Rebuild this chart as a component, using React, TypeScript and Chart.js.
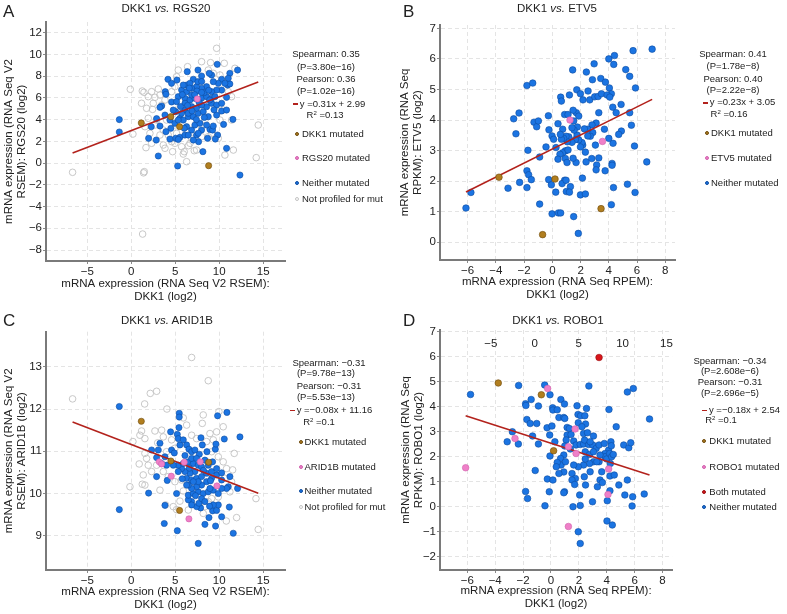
import React, { useEffect, useRef } from "react";
import { Chart, registerables } from "chart.js";
Chart.register(...registerables);

const FONT = '"Liberation Sans", Arial, Helvetica, sans-serif';
type Pt = [number, number];

// ---------------- Panel A: DKK1 vs RGS20 ----------------
const A_neither: Pt[] = [
  [-1.36,4.0],[-1.36,2.86],[1.97,2.28],[2.84,2.12],[3.07,0.65],[2.27,3.35],[2.88,4.09],[3.26,3.41],[3.45,5.25],[3.86,6.57],
  [3.94,6.33],[4.17,7.71],[4.58,7.34],[5.19,7.64],[4.58,5.62],[5.04,4.73],[5.27,-0.27],[6.36,8.41],[7.58,8.56],[9.77,9.09],
  [12.08,8.56],[11.2,8.26],[10.83,6.05],[11.55,4.02],[10.83,1.36],[12.35,-1.1],[8.14,1.05],[7.65,1.97],[9.81,2.58],[9.55,2.21],
  [10.49,3.56],[4.5,3.2],[5.04,2.28],[5.53,2.37],[5.34,2.18],[3.94,2.89],[4.39,2.21],[6.1,2.58],[6.86,3.04],[7.42,2.58],
  [7.99,3.04],[8.94,3.1],[9.24,3.04],[9.7,4.42],[8.75,4.27],[10.27,4.79],[10.95,7.18],[11.2,7.28],[11.02,7.8],[10.27,7.71],
  [9.89,7.34],[9.13,8.1],[8.86,8.26],[7.99,8.01],[7.05,7.71],[6.29,7.18],[5.72,6.72],[5.34,6.11],[5.15,5.65],[4.77,4.88],
  [5.53,4.12],[5.91,3.96],[6.48,4.27],[7.05,4.27],[7.61,4.58],[8.18,4.73],[8.56,5.19],[9.13,5.5],[9.7,5.34],[10.27,5.5],
  [10.27,6.72],[9.7,6.72],[9.13,6.57],[8.56,7.03],[7.99,6.88],[7.42,7.03],[6.86,6.88],[6.29,6.57],[6.1,5.96],[6.67,5.8],
  [7.23,5.96],[7.99,5.96],[8.56,6.11],[9.13,5.96],[6.86,5.19],[7.42,5.04],[7.99,5.34],[6.1,4.88],[6.48,4.58],[5.72,4.58],
  [3.83,4.42],[4.39,3.96],[4.96,3.66],[3.26,5.13],[6.29,3.35],[7.23,3.5],[7.8,3.66],[8.56,3.5],[6.48,2.58],[7.05,2.12],
  [7.61,2.74],[5.34,3.96],[6.02,3.2],[8.67,2.28],[9.32,3.41],[10.64,7.34],[9.32,7.49],[7.58,7.49],[6.67,7.34],[5.91,7.18],
  [7.46,6.63],[8.3,6.48],[9.51,6.11],[6.86,6.26],[6.1,5.5],[10.83,4.88],[6.6,6.9],[7.2,6.3],[8.0,6.5],[8.8,6.7],
  [6.4,5.3],[7.7,5.6],[8.9,5.8],[5.8,6.3],[6.9,4.8],[8.3,4.2],[7.4,4.0],[9.4,4.9],[5.6,5.2],[8.0,7.5]
];
const A_dkk1: Pt[] = [[1.14,3.69],[4.5,4.27],[5.49,3.35],[8.79,-0.24]];
const A_gene: Pt[] = [[7.5,5.9]];
const A_notProfiled: Pt[] = [
  [-6.67,-0.85],[-0.11,6.79],[1.25,6.63],[1.44,6.51],[1.48,-0.79],[1.29,-6.53],[0.19,2.67],[1.67,1.42],[2.69,6.05],[3.07,6.82],
  [2.42,4.94],[3.45,5.34],[3.64,1.66],[4.7,1.05],[4.96,1.82],[5.91,0.83],[6.29,0.13],[7.16,1.14],[6.4,8.87],[9.01,9.24],
  [9.7,10.56],[10.57,9.18],[11.78,8.72],[11.4,6.11],[10.64,0.74],[14.2,0.5],[14.43,3.5],[8.75,2.43],[9.89,2.28],[10.45,4.88],
  [1.93,4.12],[2.12,2.74],[2.31,1.82],[3.26,2.58],[3.83,1.36],[4.2,2.58],[2.69,3.5],[1.74,5.04],[2.88,3.96],[4.58,6.57],
  [5.15,7.95],[5.34,8.56],[4.96,7.03],[3.83,5.8],[3.26,6.26],[7.99,9.33],[8.75,8.56],[9.32,8.26],[10.08,8.1],[11.02,6.57],
  [9.89,4.73],[8.37,3.96],[7.99,2.43],[6.86,2.28],[5.72,1.51],[6.67,1.82],[7.42,1.2],[6.02,1.05],[4.58,1.97],[5.15,2.74],
  [1.55,3.35],[1.17,5.5],[1.93,6.11],[2.31,6.57],[2.5,5.5],[3.64,3.04],[4.01,3.96],[5.53,5.04],[7.99,3.35],[9.13,2.74],
  [10.08,3.96],[11.4,3.96],[1.4,-0.9],[6.5,1.6],[11.6,1.2]
];
const A_fit = { slope: 0.31, intercept: 2.99 };
const A_xTicks = [-5, 0, 5, 10, 15];
const A_yTicks = [-8, -6, -4, -2, 0, 2, 4, 6, 8, 10, 12];

// ---------------- Panel B: DKK1 vs ETV5 ----------------
const B_neither: Pt[] = [
  [-6.12,1.12],[-5.77,1.63],[-3.14,1.77],[-2.32,1.96],[-1.8,1.79],[-1.8,2.34],[-1.68,2.21],[-1.49,2.05],[-1.73,3.01],[-2.74,4.04],
  [-2.36,4.23],[-2.58,3.55],[-1.8,5.13],[-1.39,5.21],[-1.3,3.93],[-1.11,3.78],[-0.99,3.97],[-0.9,2.79],[-0.9,1.25],[-0.28,4.14],
  [-0.45,3.12],[-0.24,3.68],[-0.02,3.48],[0.09,3.37],[0.26,3.1],[-0.26,2.05],[-0.07,1.88],[0.24,1.64],[-0.02,0.93],[0.43,0.96],
  [0.59,0.96],[0.59,4.75],[0.64,4.62],[0.4,3.88],[0.73,3.7],[0.87,4.18],[1.11,4.18],[1.21,4.82],[1.44,5.64],[1.73,4.99],
  [1.7,4.24],[1.47,4.32],[1.51,3.97],[1.87,4.13],[1.99,4.86],[2.17,4.66],[2.41,5.57],[2.53,4.95],[2.65,4.66],[2.84,5.32],
  [2.96,5.84],[3.0,4.76],[3.24,4.77],[3.43,5.36],[3.48,4.86],[3.76,5.24],[4.0,6.0],[4.4,6.11],[4.35,5.82],[4.04,5.05],
  [4.18,4.86],[3.88,4.82],[4.07,4.75],[4.28,4.42],[4.52,4.24],[4.87,4.51],[5.2,5.65],[5.48,5.43],[5.72,6.27],[5.89,5.05],
  [5.48,4.24],[5.6,3.83],[5.82,3.15],[4.89,3.64],[4.7,3.53],[4.3,3.24],[4.23,2.58],[4.23,2.52],[4.33,1.79],[4.18,1.23],
  [5.32,1.9],[5.86,1.63],[6.69,2.63],[7.07,6.32],[4.0,3.4],[3.69,3.7],[3.29,4.24],[3.1,3.9],[3.05,3.18],[3.14,2.53],
  [3.1,2.37],[3.29,2.76],[2.79,2.74],[2.86,3.59],[2.69,3.47],[2.81,3.84],[2.51,3.7],[2.51,3.48],[2.27,3.71],[2.34,2.95],
  [2.15,3.18],[2.1,3.26],[1.99,3.12],[1.87,3.35],[1.75,3.51],[1.77,3.77],[1.54,3.67],[1.39,3.75],[1.63,3.36],[1.39,3.27],
  [1.16,3.45],[1.06,3.29],[0.97,3.47],[0.8,3.4],[0.64,3.37],[0.57,3.53],[0.92,2.99],[0.73,2.93],[0.92,2.74],[1.04,2.61],
  [1.11,3.02],[0.54,2.88],[0.4,2.72],[0.87,2.03],[0.69,1.92],[0.97,2.03],[1.28,1.82],[0.99,1.66],[1.21,1.64],[1.51,0.84],
  [1.84,0.29],[1.99,1.55],[2.34,1.58],[2.13,2.1],[1.68,2.61],[1.47,2.75],[2.39,2.63],[3.74,2.34]
];
const B_dkk1: Pt[] = [[-3.78,2.13],[0.19,2.07],[3.45,1.1],[-0.69,0.25]];
const B_gene: Pt[] = [[1.25,4.0],[3.55,3.3]];
const B_fit = { slope: 0.23, intercept: 3.05 };
const B_xTicks = [-6, -4, -2, 0, 2, 4, 6, 8];
const B_yTicks = [0, 1, 2, 3, 4, 5, 6, 7];

// ---------------- Panel C: DKK1 vs ARID1B ----------------
const C_neither: Pt[] = [
  [-1.36,12.06],[-1.36,9.62],[1.97,10.01],[2.31,11.03],[2.88,10.4],[3.26,11.19],[3.83,9.72],[3.75,9.29],[4.09,10.31],[4.47,11.46],
  [4.58,11.03],[4.89,10.96],[5.15,10.0],[5.23,9.12],[5.45,11.9],[5.45,11.81],[5.42,11.56],[5.23,11.4],[5.34,11.3],[5.53,11.15],
  [5.91,11.27],[6.29,11.15],[6.55,11.05],[6.86,10.99],[7.23,11.03],[7.73,10.93],[7.92,11.32],[8.07,11.15],[8.6,10.99],[9.24,10.75],
  [9.55,11.05],[9.62,11.17],[9.81,11.84],[10.87,11.92],[10.57,11.29],[12.35,11.34],[12.08,10.12],[11.21,10.4],[11.02,10.16],[10.83,10.12],
  [11.14,9.68],[11.59,9.06],[10.27,9.45],[9.58,9.23],[8.37,9.27],[8.83,9.43],[9.24,9.59],[9.7,9.6],[9.89,9.73],[9.32,9.73],
  [7.61,8.82],[7.88,9.66],[7.42,9.69],[7.69,9.77],[6.86,9.81],[6.48,9.85],[6.48,9.96],[7.05,10.0],[7.61,10.04],[8.18,10.0],
  [8.75,10.04],[9.32,10.08],[9.89,10.0],[10.27,10.12],[10.27,10.32],[9.7,10.44],[9.13,10.36],[8.56,10.28],[7.99,10.2],[7.42,10.16],
  [6.86,10.12],[6.48,10.2],[6.29,10.36],[6.86,10.32],[7.42,10.36],[7.99,10.4],[8.56,10.48],[9.13,10.52],[9.7,10.59],[10.27,10.49],
  [7.23,10.52],[6.67,10.48],[6.1,10.52],[5.72,10.59],[5.34,10.67],[5.34,10.52],[5.91,10.71],[6.48,10.75],[7.05,10.71],[7.61,10.67],
  [7.99,10.63],[8.37,10.79],[8.75,10.67],[6.86,10.83],[7.42,10.83],[4.77,10.67],[4.01,10.67],[3.45,10.71],[2.88,10.85],[3.07,11.03],
  [3.83,10.87],[6.29,10.2],[7.99,9.88],[8.37,9.81],[6.86,9.73],[8.94,10.12],[7.61,10.28],[7.05,10.28],[6.1,10.9],[8.2,10.55],
  [6.6,10.6],[9.0,10.3],[5.8,10.35],[7.3,9.95],[8.9,9.7]
];
const C_dkk1: Pt[] = [[1.14,11.71],[4.5,10.77],[8.79,10.74],[5.49,9.6]];
const C_gene: Pt[] = [[3.18,10.75],[3.45,10.7],[4.55,10.41],[6.02,10.74],[7.84,10.75],[9.73,10.18],[6.55,9.4]];
const C_notProfiled: Pt[] = [
  [-6.67,12.24],[2.16,12.37],[2.88,12.42],[1.52,12.12],[4.05,12.0],[6.86,13.22],[8.75,12.67],[8.18,11.86],[8.07,11.66],[6.29,11.62],
  [5.91,11.79],[9.96,11.94],[10.45,11.58],[11.7,10.95],[11.52,10.56],[11.97,9.43],[14.43,9.15],[14.17,9.88],[10.8,9.35],[0.19,11.23],
  [-0.15,10.16],[1.17,11.48],[0.98,11.38],[1.55,11.3],[2.69,11.48],[3.45,11.5],[3.64,11.34],[1.55,10.95],[1.74,10.83],[1.93,10.67],
  [1.36,10.44],[1.25,10.22],[1.55,10.2],[3.26,10.08],[2.31,10.52],[2.88,10.67],[3.9,9.73],[4.77,9.69],[5.15,9.62],[5.53,9.82],
  [6.48,9.61],[7.61,10.24],[8.94,11.42],[9.7,11.46],[9.32,11.27],[9.13,10.99],[9.89,10.87],[10.45,10.75],[10.83,10.59],[10.64,10.36],
  [4.58,11.27],[4.96,11.07],[4.01,10.99],[3.64,10.52],[4.2,10.4],[4.96,10.28],[5.72,10.32],[6.86,11.38],[7.42,11.3],[8.56,11.23],
  [8.75,9.81],[9.13,9.88],[8.37,9.69],[9.89,9.92],[11.21,10.04],[11.4,10.28],[8.18,9.53],[5.91,10.06],[3.0,11.2],[0.9,10.7]
];
const C_fit = { slope: -0.08, intercept: 11.16 };
const C_xTicks = [-5, 0, 5, 10, 15];
const C_yTicks = [9, 10, 11, 12, 13];

// ---------------- Panel D: DKK1 vs ROBO1 ----------------
const D_neither: Pt[] = [
  [-5.77,4.49],[-2.32,4.85],[-2.77,3.0],[-3.14,2.6],[-2.34,2.51],[-1.82,4.12],[-1.8,4.05],[-1.42,4.29],[-1.73,3.49],[-1.49,3.33],
  [-1.02,3.33],[-1.32,2.83],[-0.9,4.03],[-0.9,2.51],[-1.13,1.45],[-1.82,0.61],[-1.68,0.33],[-0.43,0.04],[-0.45,4.87],[-0.07,4.48],
  [-0.28,3.16],[-0.09,2.87],[0.12,3.96],[0.14,3.87],[0.45,3.88],[0.07,3.23],[0.28,2.6],[-0.07,2.03],[-0.26,1.11],[0.14,1.07],
  [-0.12,0.6],[0.71,4.29],[0.97,4.11],[0.57,3.57],[0.92,3.57],[0.99,3.53],[1.16,3.17],[1.32,3.13],[1.16,2.87],[1.09,2.67],
  [0.99,2.43],[0.92,2.07],[0.69,1.93],[0.73,1.67],[0.92,1.39],[1.04,1.8],[0.45,1.77],[0.38,1.6],[0.57,1.33],[0.97,0.6],
  [1.87,4.04],[1.96,3.36],[1.94,3.69],[2.13,3.64],[2.43,3.64],[2.48,3.31],[2.55,3.93],[2.72,4.83],[1.39,2.31],[1.63,2.63],
  [1.8,2.47],[2.1,2.49],[2.34,2.51],[2.7,2.49],[3.0,2.47],[3.24,2.33],[3.45,2.47],[3.05,2.83],[3.83,2.53],[4.14,2.27],
  [3.88,2.13],[3.45,1.8],[3.05,1.8],[2.77,1.73],[2.34,1.67],[1.96,1.6],[1.63,1.67],[1.51,1.33],[1.75,1.13],[1.51,1.07],
  [1.7,0.89],[2.06,0.47],[2.1,0.05],[1.96,-1.0],[2.1,-1.47],[0.92,0.56],[1.58,0.0],[2.39,1.2],[2.48,0.87],[2.98,0.2],
  [3.33,0.8],[3.52,1.07],[3.69,0.97],[3.64,1.4],[3.88,2.0],[4.0,1.91],[4.21,2.13],[4.35,2.0],[4.26,1.73],[4.3,2.6],
  [4.33,2.44],[4.47,2.09],[4.23,1.23],[4.23,0.64],[4.04,0.24],[4.02,-0.57],[4.4,-0.73],[4.54,1.27],[4.87,0.87],[4.68,3.2],
  [4.16,3.89],[5.22,2.47],[5.58,2.36],[5.72,2.56],[5.48,1.07],[5.3,0.47],[5.86,0.4],[5.82,0.03],[6.69,0.51],[7.07,3.51],
  [5.48,4.59],[5.91,4.73],[2.41,2.67],[2.81,2.6],[2.46,2.2],[2.77,2.09],[3.52,2.07],[3.05,2.2],[2.81,1.4],[3.29,1.8],
  [2.46,1.91],[1.44,2.89],[2.34,2.93],[2.22,3.2],[2.62,2.96]
];
const D_dkk1: Pt[] = [[-3.78,4.95],[-0.69,4.48],[0.19,2.24]];
const D_gene: Pt[] = [[-6.12,1.56],[-2.58,2.73],[-0.24,4.73],[1.73,3.11],[1.25,2.4],[1.8,2.13],[4.14,1.51],[4.09,0.49],[1.25,-0.79]];
const D_both: Pt[] = [[3.45,5.97]];
const D_fit = { slope: -0.18, intercept: 2.54 };
const D_xTicks = [-6, -4, -2, 0, 2, 4, 6, 8];
const D_yTicks = [-2, -1, 0, 1, 2, 3, 4, 5, 6, 7];
const D_topTicks = [-5, 0, 5, 10, 15];

// ---------------- styles ----------------
type Kind = "neither" | "dkk1" | "gene" | "both" | "np";
const KIND_STYLE: Record<Kind, { bg: string; border: string; order: number }> = {
  neither: { bg: "#1b74e2", border: "#0e4c9f", order: 2 },
  dkk1: { bg: "#b17e1f", border: "#6d4a0d", order: 0 },
  gene: { bg: "#ef80c8", border: "#d062ad", order: 0 },
  both: { bg: "#d8161b", border: "#990d10", order: 0 },
  np: { bg: "rgba(255,255,255,0)", border: "#c2c2c2", order: 3 },
};
const FIT_COLOR = "#b3221c";

interface PanelCfg {
  left: number; top: number; width: number; height: number;
  padTop: number; padRight: number; yAxisW: number; xAxisH: number;
  xMin: number; xMax: number; yMin: number; yMax: number;
  xTicks: number[]; yTicks: number[];
  xTitle: string[]; yTitle: string[]; xTitlePadB: number; yTitlePadT: number;
  series: { data: Pt[]; kind: Kind }[];
  fit: { slope: number; intercept: number };
  radius: number;
  topAxis?: { min: number; max: number; ticks: number[] };
}

const fmt = (v: number) => (v < 0 ? "\u2212" + Math.abs(v) : String(v));
const tickFont = { family: FONT, size: 11.5 };
const titleFont = { family: FONT, size: 11.5, lineHeight: 1.1 };

const PANELS: PanelCfg[] = [
  {
    left: 0, top: 0, width: 290, height: 306, padTop: 22, padRight: 5, yAxisW: 46, xAxisH: 45,
    xMin: -9.69, xMax: 17.47, yMin: -9.01, yMax: 12.98, xTicks: A_xTicks, yTicks: A_yTicks,
    xTitle: ["mRNA expression (RNA Seq V2 RSEM):", "DKK1 (log2)"], yTitle: ["mRNA expression (RNA Seq V2", "RSEM): RGS20 (log2)"],
    xTitlePadB: 3, yTitlePadT: 2.7,
    series: [{ data: A_dkk1, kind: "dkk1" }, { data: A_gene, kind: "gene" }, { data: A_neither, kind: "neither" }, { data: A_notProfiled, kind: "np" }],
    fit: A_fit, radius: 3.1,
  },
  {
    left: 396, top: 0, width: 284, height: 306, padTop: 25, padRight: 5, yAxisW: 44, xAxisH: 46,
    xMin: -7.96, xMax: 8.69, yMin: -0.58, yMax: 7.11, xTicks: B_xTicks, yTicks: B_yTicks,
    xTitle: ["mRNA expression (RNA Seq RPEM):", "DKK1 (log2)"], yTitle: ["mRNA expression (RNA Seq", "RPKM): ETV5 (log2)"],
    xTitlePadB: 4.7, yTitlePadT: 2.7,
    series: [{ data: B_dkk1, kind: "dkk1" }, { data: B_gene, kind: "gene" }, { data: B_neither, kind: "neither" }],
    fit: B_fit, radius: 3.3,
  },
  {
    left: 0, top: 306, width: 290, height: 308, padTop: 25.7, padRight: 5, yAxisW: 46, xAxisH: 44,
    xMin: -9.69, xMax: 17.47, yMin: 8.19, yMax: 13.83, xTicks: C_xTicks, yTicks: C_yTicks,
    xTitle: ["mRNA expression (RNA Seq V2 RSEM):", "DKK1 (log2)"], yTitle: ["mRNA expression (RNA Seq V2", "RSEM): ARID1B (log2)"],
    xTitlePadB: 2.7, yTitlePadT: 2.7,
    series: [{ data: C_dkk1, kind: "dkk1" }, { data: C_gene, kind: "gene" }, { data: C_neither, kind: "neither" }, { data: C_notProfiled, kind: "np" }],
    fit: C_fit, radius: 3.1,
  },
  {
    left: 396, top: 306, width: 284, height: 308, padTop: 24, padRight: 5, yAxisW: 44, xAxisH: 44,
    xMin: -7.96, xMax: 8.69, yMin: -2.53, yMax: 7.07, xTicks: D_xTicks, yTicks: D_yTicks,
    xTitle: ["mRNA expression (RNA Seq RPEM):", "DKK1 (log2)"], yTitle: ["mRNA expression (RNA Seq", "RPKM): ROBO1 (log2)"],
    xTitlePadB: 3.7, yTitlePadT: 4,
    series: [{ data: D_both, kind: "both" }, { data: D_dkk1, kind: "dkk1" }, { data: D_gene, kind: "gene" }, { data: D_neither, kind: "neither" }],
    fit: D_fit, radius: 3.3,
    topAxis: { min: -10.8, max: 15.64, ticks: D_topTicks },
  },
];

function ScatterPanel({ cfg }: { cfg: PanelCfg }) {
  const ref = useRef<HTMLCanvasElement>(null);
  useEffect(() => {
    const all = cfg.series.flatMap((s) => s.data);
    const xs = all.map((p) => p[0]);
    const x0 = Math.min(...xs);
    const x1 = Math.max(...xs);
    const datasets: any[] = cfg.series.map((s) => {
      const st = KIND_STYLE[s.kind];
      return {
        data: s.data.map(([x, y]) => ({ x, y })),
        backgroundColor: st.bg,
        borderColor: st.border,
        borderWidth: s.kind === "np" ? 0.9 : 0.6,
        pointRadius: s.kind === "np" ? cfg.radius + 0.2 : cfg.radius,
        order: st.order,
        xAxisID: "x",
        yAxisID: "y",
      };
    });
    datasets.push({
      data: [
        { x: x0, y: cfg.fit.slope * x0 + cfg.fit.intercept },
        { x: x1, y: cfg.fit.slope * x1 + cfg.fit.intercept },
      ],
      showLine: true,
      borderColor: FIT_COLOR,
      backgroundColor: FIT_COLOR,
      borderWidth: 1.6,
      pointRadius: 0,
      order: 1,
      xAxisID: "x",
      yAxisID: "y",
    });
    const grid = { color: "#e4e4e4", lineWidth: 1, tickLength: 3, tickColor: "#8a8a8a", tickWidth: 1 };
    const border = { display: true, color: "#7a7a7a", width: 2, dash: [4, 3] };
    const scales: any = {
      x: {
        type: "linear", position: "bottom", min: cfg.xMin, max: cfg.xMax,
        afterBuildTicks: (s: any) => { s.ticks = cfg.xTicks.map((v) => ({ value: v })); },
        afterFit: (s: any) => { s.height = cfg.xAxisH; },
        grid, border,
        ticks: { font: tickFont, color: "#222", padding: 1, maxRotation: 0, autoSkip: false, callback: (v: any) => fmt(Number(v)) },
        title: { display: true, text: cfg.xTitle, font: titleFont, color: "#222", padding: { top: 0, bottom: cfg.xTitlePadB } },
      },
      y: {
        type: "linear", position: "left", min: cfg.yMin, max: cfg.yMax,
        afterBuildTicks: (s: any) => { s.ticks = cfg.yTicks.map((v) => ({ value: v })); },
        afterFit: (s: any) => { s.width = cfg.yAxisW; },
        grid, border,
        ticks: { font: tickFont, color: "#222", padding: 1, autoSkip: false, callback: (v: any) => fmt(Number(v)) },
        title: { display: true, text: cfg.yTitle, font: titleFont, color: "#222", padding: { top: cfg.yTitlePadT, bottom: 0 } },
      },
    };
    if (cfg.topAxis) {
      const ta = cfg.topAxis;
      scales.x2 = {
        type: "linear", position: "top", min: ta.min, max: ta.max,
        afterBuildTicks: (s: any) => { s.ticks = ta.ticks.map((v) => ({ value: v })); },
        afterFit: (s: any) => { s.height = 0; },
        grid: { display: false }, border: { display: false },
        ticks: { font: tickFont, color: "#222", mirror: true, padding: 7, maxRotation: 0, autoSkip: false, callback: (v: any) => fmt(Number(v)) },
      };
    }
    const chart = new Chart(ref.current as HTMLCanvasElement, {
      type: "scatter",
      data: { datasets },
      options: {
        animation: false,
        responsive: false,
        maintainAspectRatio: false,
        events: [],
        layout: { padding: { top: cfg.padTop, right: cfg.padRight, left: 0, bottom: 0 } },
        plugins: { legend: { display: false }, tooltip: { enabled: false }, title: { display: false } },
        scales,
      } as any,
    });
    return () => chart.destroy();
  }, [cfg]);
  return (
    <canvas
      ref={ref}
      width={cfg.width}
      height={cfg.height}
      style={{ position: "absolute", left: cfg.left, top: cfg.top, width: cfg.width, height: cfg.height }}
    />
  );
}

// ---------------- HTML annotations ----------------
const TITLES = [
  { cx: 166, cy: 8, a: "DKK1", b: "RGS20", letter: "A", lx: 3, ly: 12 },
  { cx: 557, cy: 8, a: "DKK1", b: "ETV5", letter: "B", lx: 403, ly: 12 },
  { cx: 167, cy: 320, a: "DKK1", b: "ARID1B", letter: "C", lx: 3, ly: 321 },
  { cx: 558, cy: 320, a: "DKK1", b: "ROBO1", letter: "D", lx: 403, ly: 321 },
];

interface StatBlock {
  cx: number;
  lines: { y: number; text: string; fit?: boolean; r2?: boolean; dx?: number }[];
  items: { y: number; kind: Kind; label: string }[];
  dotX: number; textX: number;
}

const STATS: StatBlock[] = [
  {
    cx: 326,
    lines: [
      { y: 54.3, text: "Spearman: 0.35" }, { y: 66.7, text: "(P=3.80e\u221216)" }, { y: 79, text: "Pearson: 0.36" },
      { y: 90.7, text: "(P=1.02e\u221216)" }, { y: 103.7, text: "y =0.31x + 2.99", fit: true, dx: 3 }, { y: 115, text: "=0.13", r2: true, dx: -1 },
    ],
    items: [
      { y: 134, kind: "dkk1", label: "DKK1 mutated" }, { y: 157.7, kind: "gene", label: "RGS20 mutated" },
      { y: 183.3, kind: "neither", label: "Neither mutated" }, { y: 199.3, kind: "np", label: "Not profiled for mut" },
    ],
    dotX: 296.5, textX: 302,
  },
  {
    cx: 733,
    lines: [
      { y: 54, text: "Spearman: 0.41" }, { y: 65.7, text: "(P=1.78e\u22128)" }, { y: 79, text: "Pearson: 0.40" },
      { y: 90, text: "(P=2.22e\u22128)" }, { y: 102.3, text: "y =0.23x + 3.05", fit: true, dx: 6 }, { y: 114, text: "=0.16", r2: true, dx: -4 },
    ],
    items: [
      { y: 133.3, kind: "dkk1", label: "DKK1 mutated" }, { y: 157.7, kind: "gene", label: "ETV5 mutated" },
      { y: 183.3, kind: "neither", label: "Neither mutated" },
    ],
    dotX: 706.7, textX: 711,
  },
  {
    cx: 329,
    lines: [
      { y: 362.7, text: "Spearman: \u22120.31" }, { y: 373.3, text: "(P=9.78e\u221213)", dx: -3 }, { y: 386, text: "Pearson: \u22120.31" },
      { y: 397.3, text: "(P=5.53e\u221213)", dx: -3 }, { y: 410, text: "y =\u22120.08x + 11.16", fit: true, dx: 2 }, { y: 421.7, text: "=0.1", r2: true, dx: -10 },
    ],
    items: [
      { y: 441.7, kind: "dkk1", label: "DKK1 mutated" }, { y: 466.7, kind: "gene", label: "ARID1B mutated" },
      { y: 491, kind: "neither", label: "Neither mutated" }, { y: 506.7, kind: "np", label: "Not profiled for mut" },
    ],
    dotX: 301, textX: 304.5,
  },
  {
    cx: 730,
    lines: [
      { y: 361, text: "Spearman: \u22120.34" }, { y: 371, text: "(P=2.608e\u22126)" }, { y: 381.7, text: "Pearson: \u22120.31" },
      { y: 392.7, text: "(P=2.696e\u22125)" }, { y: 410, text: "y =\u22120.18x + 2.54", fit: true, dx: 11 }, { y: 420, text: "=0.1", r2: true, dx: -9 },
    ],
    items: [
      { y: 441, kind: "dkk1", label: "DKK1 mutated" }, { y: 466.7, kind: "gene", label: "ROBO1 mutated" },
      { y: 491.7, kind: "both", label: "Both mutated" }, { y: 507.3, kind: "neither", label: "Neither mutated" },
    ],
    dotX: 704, textX: 709.3,
  },
];

const STAT_FONT = 9.5;

function Stats({ s }: { s: StatBlock }) {
  return (
    <>
      {s.lines.map((l, i) => (
        <div
          key={"l" + i}
          style={{
            position: "absolute", left: s.cx - 70 + (l.dx || 0), width: 140, top: l.y - 6, height: 12,
            lineHeight: "12px", fontSize: STAT_FONT, textAlign: "center", whiteSpace: "nowrap",
          }}
        >
          {l.fit && (
            <span style={{ display: "inline-block", width: 5, height: 1.6, background: FIT_COLOR, verticalAlign: "middle", marginRight: 2 }} />
          )}
          {l.r2 && (
            <span>
              R<sup style={{ fontSize: 6, verticalAlign: "top", lineHeight: "8px" }}>2</sup>{" "}
            </span>
          )}
          {l.text}
        </div>
      ))}
      {s.items.map((it, i) => {
        const st = KIND_STYLE[it.kind];
        return (
          <React.Fragment key={"i" + i}>
            <div
              style={{
                position: "absolute", left: s.dotX - 2, top: it.y - 2, width: 4, height: 4, borderRadius: "50%",
                boxSizing: "border-box", background: it.kind === "np" ? "#fff" : st.bg,
                border: `0.8px solid ${st.border}`,
              }}
            />
            <div
              style={{
                position: "absolute", left: s.textX, top: it.y - 6, height: 12, lineHeight: "12px",
                fontSize: STAT_FONT, whiteSpace: "nowrap",
              }}
            >
              {it.label}
            </div>
          </React.Fragment>
        );
      })}
    </>
  );
}

export default function App() {
  return (
    <div
      style={{
        position: "absolute", left: 0, top: 0, width: 787, height: 614, background: "#fff",
        fontFamily: FONT, color: "#222", overflow: "hidden",
      }}
    >
      {PANELS.map((p, i) => (
        <ScatterPanel key={i} cfg={p} />
      ))}
      {TITLES.map((t, i) => (
        <React.Fragment key={"t" + i}>
          <div
            style={{
              position: "absolute", left: t.cx - 100, width: 200, top: t.cy - 7, height: 14, lineHeight: "14px",
              fontSize: 11.5, textAlign: "center", whiteSpace: "nowrap",
            }}
          >
            {t.a} <i>vs.</i> {t.b}
          </div>
          <div style={{ position: "absolute", left: t.lx, top: t.ly - 10, height: 20, lineHeight: "20px", fontSize: 17 }}>
            {t.letter}
          </div>
        </React.Fragment>
      ))}
      {STATS.map((s, i) => (
        <Stats key={"s" + i} s={s} />
      ))}
    </div>
  );
}
